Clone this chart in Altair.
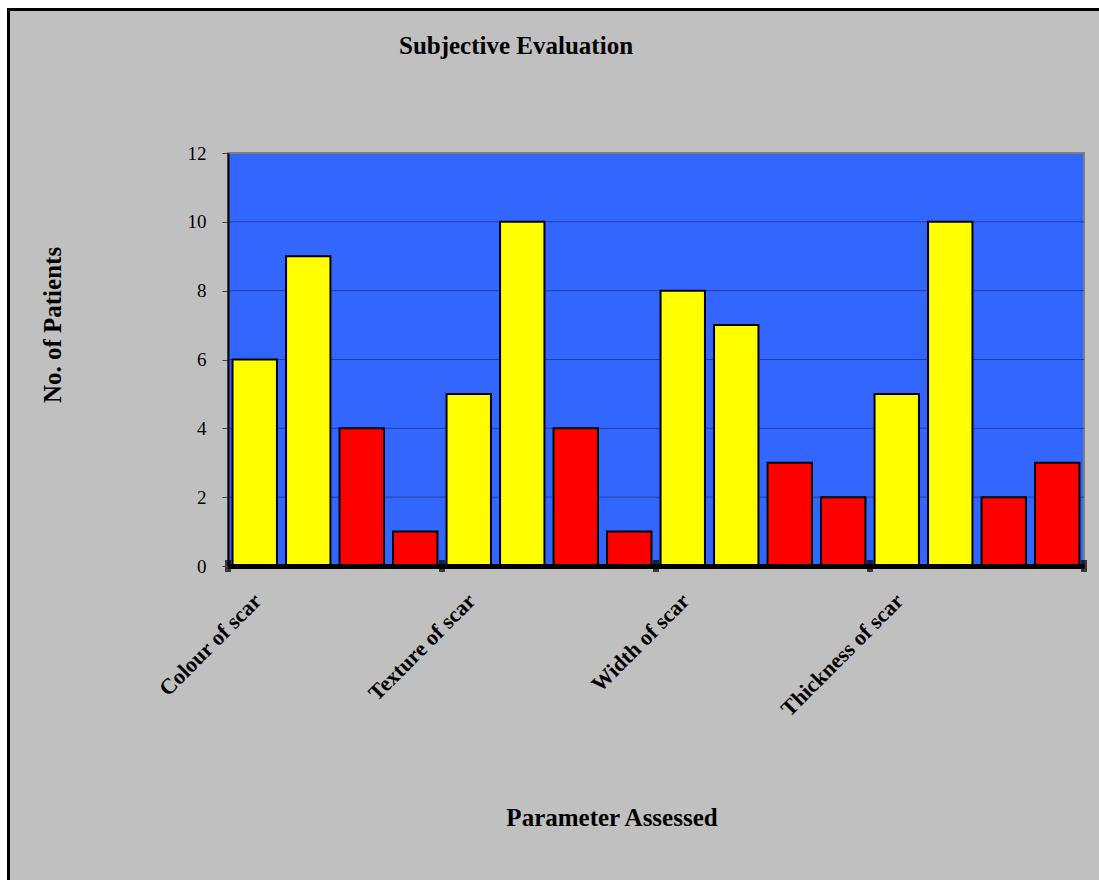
import altair as alt
import pandas as pd

categories = ["Colour of scar", "Texture of scar", "Width of scar", "Thickness of scar"]
series = ["Series 1", "Series 2", "Series 3", "Series 4"]
series1 = [6, 5, 8, 5]
series2 = [9, 10, 7, 10]
series3 = [4, 4, 3, 2]
series4 = [1, 1, 2, 3]
series_colors = ["#FFFF00", "#FFFF00", "#FF0000", "#FF0000"]
y_ticks = [0, 2, 4, 6, 8, 10, 12]
group_edges = [0, 4, 8, 12, 16]

title_text = "Subjective Evaluation"
x_title = "Parameter Assessed"
y_title = "No. of Patients"

all_series = [series1, series2, series3, series4]
rows = []
for i, cat in enumerate(categories):
    for j, name in enumerate(series):
        rows.append({"category": cat, "series": name, "slot": 4 * i + j, "value": all_series[j][i]})
df = pd.DataFrame(rows)

W, H = 856, 413
FONT = "Liberation Serif"

label_expr = "datum.value % 4 == 0 ? " + str(categories) + "[floor(datum.value / 4)] : ''"

one = alt.Data(values=[{}])

frame = alt.Chart(one).mark_rect(fill="#C0C0C0", stroke="black", strokeWidth=3).encode(
    x=alt.value(-219.5), x2=alt.value(W + 60), y=alt.value(-143.5), y2=alt.value(H + 360)
)

plotbg = alt.Chart(one).mark_rect(fill="#3366FF", stroke="#808080", strokeWidth=2).encode(
    x=alt.value(0), x2=alt.value(W), y=alt.value(0), y2=alt.value(H)
)

yscale = alt.Scale(domain=[0, 12], nice=False, zero=True)

grid = alt.Chart(pd.DataFrame({"v": y_ticks[1:-1]})).mark_rule(color="#21409c", strokeWidth=1).encode(
    y=alt.Y("v:Q", scale=yscale, title=None)
)

bars = alt.Chart(df).mark_bar(stroke="black", strokeWidth=2).encode(
    x=alt.X(
        "slot:O",
        scale=alt.Scale(paddingInner=0.17, paddingOuter=0.085),
        axis=alt.Axis(
            title=None,
            labelExpr=label_expr,
            labelAngle=315,
            labelAlign="right",
            labelBaseline="middle",
            labelOffset=3,
            labelPadding=31,
            ticks=False,
            tickSize=0,
            domainColor="black",
            domainWidth=5,
            labelFont=FONT,
            labelFontWeight="bold",
            labelFontSize=22,
            labelColor="black",
            labelOverlap=False,
            zindex=1,
        ),
    ),
    y=alt.Y(
        "value:Q",
        scale=yscale,
        axis=alt.Axis(
            values=y_ticks,
            title=None,
            grid=False,
            domainColor="black",
            domainWidth=2,
            tickColor="#444444",
            tickSize=6,
            tickWidth=1,
            labelPadding=16,
            labelFont=FONT,
            labelFontSize=19,
            labelColor="black",
            zindex=1,
        ),
    ),
    color=alt.Color("series:N", scale=alt.Scale(domain=series, range=series_colors), legend=None),
)

edges = alt.Chart(pd.DataFrame({"e": group_edges})).mark_tick(color="black", thickness=6, size=12).encode(
    x=alt.X("e:Q", scale=alt.Scale(domain=[0, 16], nice=False, zero=False), axis=None),
    y=alt.value(H),
)

t_title = alt.Chart(one).mark_text(
    text=title_text, font=FONT, fontSize=25, fontWeight="bold", align="center", baseline="alphabetic", color="black"
).encode(x=alt.value(288), y=alt.value(-99))

t_x = alt.Chart(one).mark_text(
    text=x_title, font=FONT, fontSize=25, fontWeight="bold", align="center", baseline="alphabetic", color="black"
).encode(x=alt.value(384), y=alt.value(673))

t_y = alt.Chart(one).mark_text(
    text=y_title, font=FONT, fontSize=25, fontWeight="bold", align="center", baseline="middle", angle=270, color="black"
).encode(x=alt.value(-175), y=alt.value(172))

chart = (
    alt.layer(frame, plotbg, grid, bars, edges, t_title, t_x, t_y)
    .resolve_scale(x="independent")
    .properties(
        width=W,
        height=H,
        autosize=alt.AutoSizeParams(type="none"),
        padding={"left": 228, "top": 153, "right": 1099 - 228 - W, "bottom": 880 - 153 - H},
        background="white",
    )
    .configure_view(stroke=None)
)

chart.save("out.html", embed_options={"renderer": "svg", "actions": False})
